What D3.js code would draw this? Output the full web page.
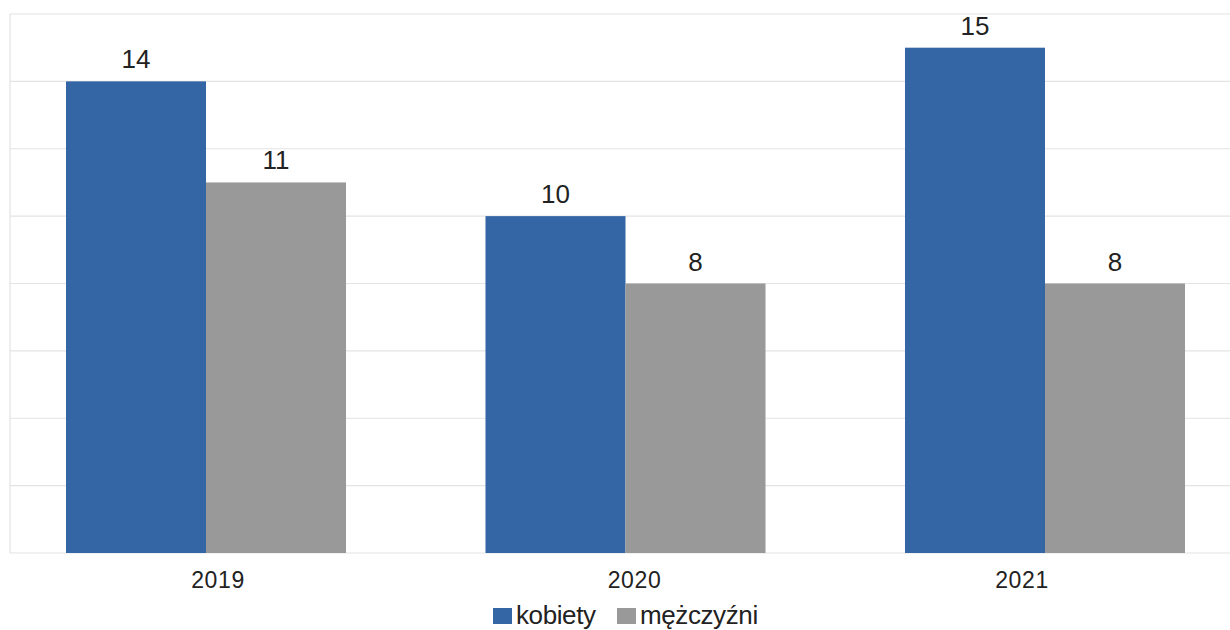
<!DOCTYPE html>
<html><head><meta charset="utf-8">
<script src="https://cdn.jsdelivr.net/npm/d3@7"></script>
<style>html,body{margin:0;padding:0;background:#fff;}svg{display:block;}</style>
</head><body>
<svg id="c" width="1230" height="630"></svg>
<script>
const years = ["2019", "2020", "2021"];
const seriesNames = ["kobiety", "mężczyźni"];
const kobiety = [14, 10, 15];
const mezczyzni = [11, 8, 8];
const yTicks = [0, 2, 4, 6, 8, 10, 12, 14, 16];
const colors = ["#3465a4", "#999999"];

const svg = d3.select("#c");
const W = 1230, plotLeft = 10, plotTop = 14, plotBottom = 553;
const y = d3.scaleLinear().domain([0, 16]).range([plotBottom, plotTop]);
const x0 = d3.scaleBand().domain(years).range([plotLeft, 1241]).paddingInner(0.3325).paddingOuter(0.1335);
const x1 = d3.scaleBand().domain(seriesNames).range([0, x0.bandwidth()]);

// gridlines
svg.append("g").selectAll("line").data(yTicks).join("line")
  .attr("x1", plotLeft).attr("x2", W).attr("y1", d => y(d)).attr("y2", d => y(d))
  .attr("stroke", "#e3e3e3").attr("stroke-width", 1.2);
svg.append("line").attr("x1", plotLeft).attr("x2", plotLeft).attr("y1", plotTop).attr("y2", plotBottom)
  .attr("stroke", "#e3e3e3").attr("stroke-width", 1.2);

const data = years.map((yr, i) => ({year: yr, vals: [kobiety[i], mezczyzni[i]]}));
const g = svg.append("g").selectAll("g").data(data).join("g")
  .attr("transform", d => `translate(${x0(d.year)},0)`);
g.selectAll("rect").data(d => d.vals.map((v, j) => ({v, s: seriesNames[j], j}))).join("rect")
  .attr("x", d => x1(d.s)).attr("width", x1.bandwidth())
  .attr("y", d => y(d.v)).attr("height", d => y(0) - y(d.v))
  .attr("fill", d => colors[d.j]);
g.selectAll("text").data(d => d.vals.map((v, j) => ({v, s: seriesNames[j]}))).join("text")
  .attr("x", d => x1(d.s) + x1.bandwidth() / 2).attr("y", d => y(d.v) - 13)
  .attr("text-anchor", "middle").attr("font-family", "Liberation Sans, Arial, sans-serif")
  .attr("font-size", 26).attr("fill", "#222").text(d => d.v);

// x axis labels
const labelShift = [12, 9, -23];
const xAxis = d3.axisBottom(x0).tickSize(0).tickPadding(19);
const ax = svg.append("g").attr("transform", `translate(0,${plotBottom})`).call(xAxis);
ax.select(".domain").remove();
ax.selectAll("text").attr("font-family", "Liberation Sans, Arial, sans-serif")
  .attr("font-size", 23).attr("letter-spacing", 0.6).attr("fill", "#222")
  .attr("dx", (d, i) => labelShift[i]);

// legend
const leg = svg.append("g").attr("font-family", "Liberation Sans, Arial, sans-serif");
const legX = [493, 617];
seriesNames.forEach((s, i) => {
  leg.append("rect").attr("x", legX[i]).attr("y", 608).attr("width", 19).attr("height", 16).attr("fill", colors[i]);
  leg.append("text").attr("x", legX[i] + 23).attr("y", 624).attr("font-size", 26)
    .attr("letter-spacing", -0.4).attr("fill", "#222").text(s);
});
</script>
</body></html>
